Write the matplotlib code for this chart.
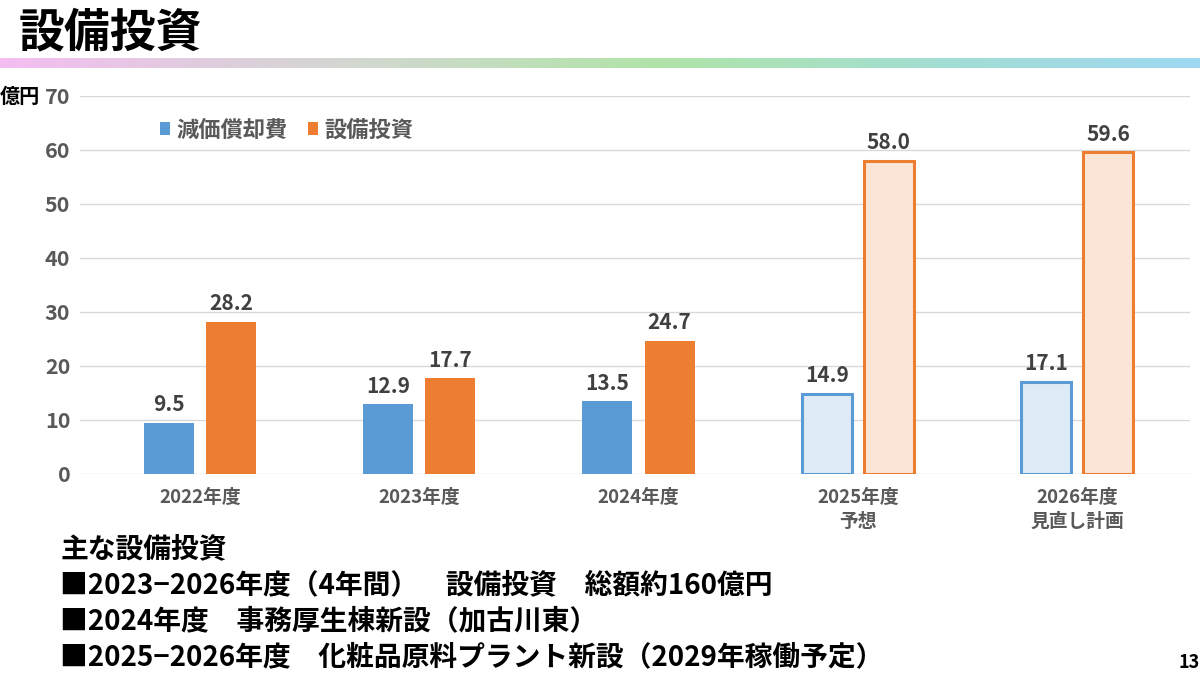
import matplotlib
matplotlib.use("Agg")
import matplotlib.pyplot as plt
import numpy as np
from matplotlib.colors import LinearSegmentedColormap
from matplotlib.patches import Patch

plt.rcParams['font.family'] = ['Noto Sans CJK JP', 'DejaVu Sans']

categories = ["2022年度", "2023年度", "2024年度", "2025年度\n予想", "2026年度\n見直し計画"]
depreciation = [9.5, 12.9, 13.5, 14.9, 17.1]
capex = [28.2, 17.7, 24.7, 58.0, 59.6]
forecast = [False, False, False, True, True]
series_names = ["減価償却費", "設備投資"]
yticks = [0, 10, 20, 30, 40, 50, 60, 70]

title = "設備投資"
notes_head = "主な設備投資"
notes = ["■2023−2026年度（4年間）　設備投資　総額約160億円",
         "■2024年度　事務厚生棟新設（加古川東）",
         "■2025−2026年度　化粧品原料プラント新設（2029年稼働予定）"]

BLUE = "#5B9BD5"
ORANGE = "#ED7D31"
BLUE_L = "#DEEAF6"
ORANGE_L = "#FBE5D6"
GRAY = "#595959"

W, H = 1200, 675
fig = plt.figure(figsize=(12, 6.75), dpi=100)

def fx(px):
    return px / W

def fy(py):
    return 1 - py / H

# gradient band
gax = fig.add_axes([0, fy(68), 1, fy(58) - fy(68)])
cmap = LinearSegmentedColormap.from_list("band", [(0, "#F5BDF2"), (0.2, "#DCCFDA"), (0.3, "#D2D8D0"),
                                                  (0.55, "#B0E4A8"), (0.8, "#A2DED6"), (1, "#9ED8F2")])
gax.imshow(np.linspace(0, 1, 512)[None, :], aspect="auto", cmap=cmap, extent=[0, 1, 0, 1])
gax.axis("off")

fig.text(fx(19), fy(33), title, fontsize=33, fontweight="bold", color="black", va="center", ha="left")

# main axes
left_px, right_px = 80, 1190
ax = fig.add_axes([fx(left_px), fy(474), fx(right_px - left_px), fy(96) - fy(474)])
x = np.arange(len(categories))
bw = 0.228
off = 0.1415
for i in range(len(categories)):
    if forecast[i]:
        ax.bar(x[i] - off, depreciation[i], bw, facecolor=BLUE_L, edgecolor=BLUE, linewidth=2.2, zorder=3)
        ax.bar(x[i] + off, capex[i], bw, facecolor=ORANGE_L, edgecolor=ORANGE, linewidth=2.2, zorder=3)
    else:
        ax.bar(x[i] - off, depreciation[i], bw, color=BLUE, zorder=3)
        ax.bar(x[i] + off, capex[i], bw, color=ORANGE, zorder=3)
    ax.text(x[i] - off, depreciation[i] + 1.4, f"{depreciation[i]:.1f}", ha="center", va="bottom",
            fontsize=15, fontweight="bold", color="#404040")
    ax.text(x[i] + off, capex[i] + 1.4, f"{capex[i]:.1f}", ha="center", va="bottom",
            fontsize=15, fontweight="bold", color="#404040")

ax.set_xlim(-0.547, 4.515)
ax.set_ylim(0, 70)
ax.set_yticks(yticks)
ax.set_yticklabels([str(v) for v in yticks], fontsize=15.5, fontweight="bold", color=GRAY)
ax.set_xticks(x)
ax.set_xticklabels(categories, fontsize=13.5, fontweight="bold", color=GRAY, linespacing=1.35)
ax.tick_params(axis="both", length=0)
ax.tick_params(axis="y", pad=7)
ax.tick_params(axis="x", pad=10)
ax.grid(axis="y", color="#D9D9D9", linewidth=1, zorder=0)
for s in ax.spines.values():
    s.set_visible(False)

fig.text(fx(0), fy(96), "億円", fontsize=14.5, fontweight="bold", color="black", va="center", ha="left")

handles = [Patch(facecolor=BLUE, edgecolor="none"), Patch(facecolor=ORANGE, edgecolor="none")]
leg = fig.legend(handles, series_names, loc="center left", bbox_to_anchor=(fx(140), fy(130)),
                 ncol=2, frameon=False, handlelength=0.45, handleheight=0.5, handletextpad=0.3,
                 columnspacing=0.9, prop={"size": 16, "weight": "bold"})
for t in leg.get_texts():
    t.set_color(GRAY)

fig.text(fx(60), fy(549), notes_head, fontsize=20, fontweight="bold", color="black", va="center", ha="left")
for k, line in enumerate(notes):
    fig.text(fx(60), fy(585 + 36 * k), line, fontsize=20, fontweight="bold", color="black",
             va="center", ha="left")
fig.text(fx(1200), fy(663), "13", fontsize=13, fontweight="bold", color="black", va="center", ha="right")

fig.savefig("out.png", dpi=100, facecolor="white")
